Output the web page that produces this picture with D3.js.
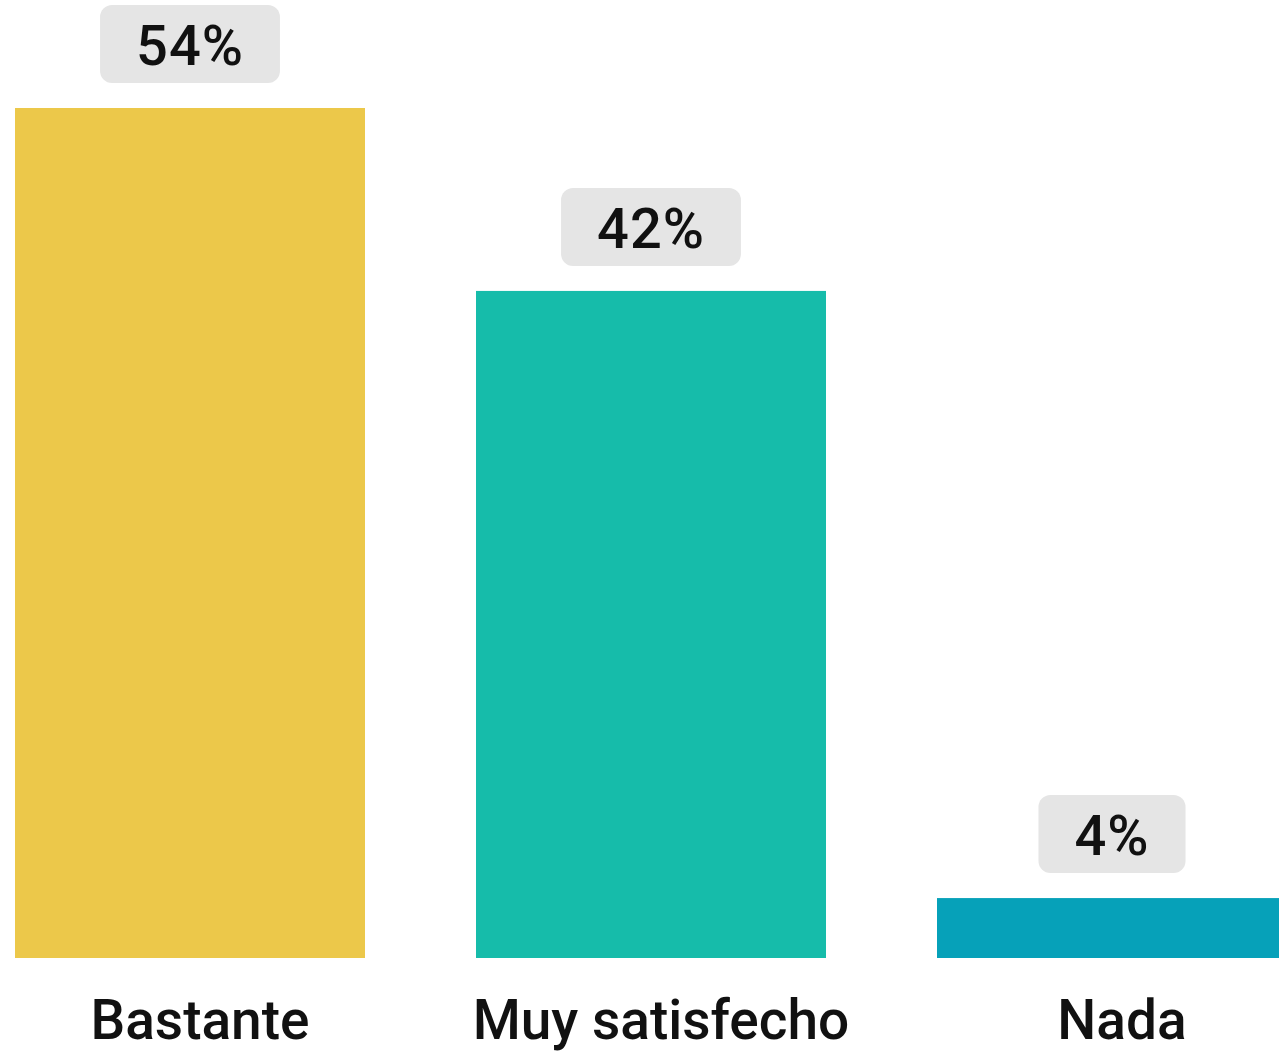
<!DOCTYPE html>
<html>
<head>
<meta charset="utf-8">
<script src="https://cdn.jsdelivr.net/npm/d3@7"></script>
<style>
  html, body { margin: 0; padding: 0; background: #fff; }
  svg { display: block; }
  text { font-family: Roboto, "Noto Sans", sans-serif; fill: #111; }
</style>
</head>
<body>
<svg class="chart" width="1279" height="1051"></svg>
<script>
const categories = ["Bastante", "Muy satisfecho", "Nada"];
const values = [53.9, 42.3, 3.8];
const colors = ["#ECC84A", "#16BCAA", "#06A1B9"];

const svg = d3.select(".chart");
const baseline = 958;

const x = d3.scaleBand().domain(categories).range([15, 1287]).paddingInner(111 / 461).paddingOuter(0);
const y = d3.scaleLinear().domain([0, 100]).range([baseline, baseline - 1577]);

const data = categories.map((c, i) => ({ cat: c, value: values[i], color: colors[i] }));

// bars
svg.append("g")
  .selectAll("rect")
  .data(data)
  .join("rect")
  .attr("x", (d) => x(d.cat))
  .attr("y", (d) => y(d.value))
  .attr("width", x.bandwidth())
  .attr("height", (d) => baseline - y(d.value))
  .attr("fill", (d) => d.color);

// value badges
const badge = svg.append("g")
  .selectAll("g")
  .data(data)
  .join("g")
  .attr("transform", (d) => `translate(${x(d.cat) + x.bandwidth() / 2},${y(d.value) - 25 - 39})`);

badge.append("text")
  .attr("text-anchor", "middle")
  .attr("dy", "0.38em")
  .attr("font-size", 56)
  .attr("font-weight", 500)
  .attr("letter-spacing", 1)
  .text((d) => Math.round(d.value) + "%")
  .each(function () {
    const w = this.getComputedTextLength();
    d3.select(this.parentNode)
      .insert("rect", "text")
      .attr("x", -w / 2 - 36)
      .attr("y", -39)
      .attr("width", w + 72)
      .attr("height", 78)
      .attr("rx", 12)
      .attr("fill", "#E5E5E5");
  });

// category labels
svg.append("g")
  .selectAll("text")
  .data(data)
  .join("text")
  .attr("x", (d) => x(d.cat) + x.bandwidth() / 2 + 10)
  .attr("y", 1039)
  .attr("text-anchor", "middle")
  .attr("font-size", 55)
  .attr("font-weight", 500)
  .text((d) => d.cat);
</script>
</body>
</html>
